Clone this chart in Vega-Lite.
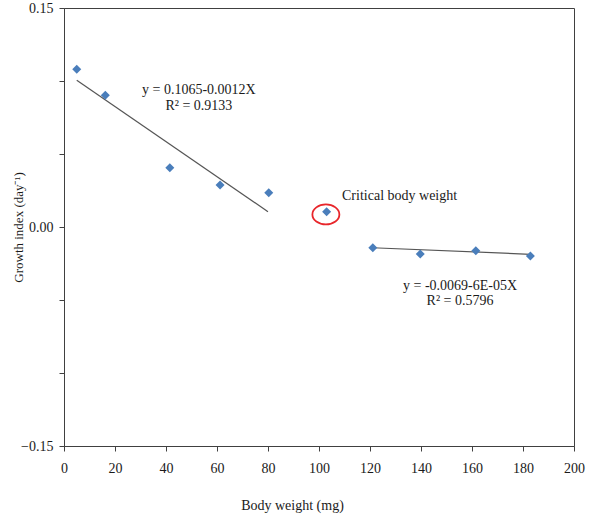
{
  "$schema": "https://vega.github.io/schema/vega-lite/v6.json",
  "width": 510,
  "height": 438,
  "autosize": {"type": "none"},
  "padding": {"left": 64, "top": 8, "right": 17, "bottom": 72},
  "background": "white",
  "config": {
    "view": {"stroke": "#404040", "strokeWidth": 1},
    "font": "Liberation Serif",
    "axis": {
      "domainColor": "#404040",
      "tickColor": "#404040",
      "labelColor": "#1a1a1a",
      "titleColor": "#1a1a1a",
      "labelFont": "Liberation Serif",
      "titleFont": "Liberation Serif",
      "labelFontSize": 14,
      "titleFontSize": 14,
      "titleFontWeight": "normal",
      "grid": false,
      "tickSize": 5,
      "labelFlush": false,
      "labelOverlap": false
    }
  },
  "datasets": {
    "points": [
      {"weight": 5.0, "growth": 0.1080},
      {"weight": 16.2, "growth": 0.0902},
      {"weight": 41.5, "growth": 0.0406},
      {"weight": 61.2, "growth": 0.0288},
      {"weight": 80.3, "growth": 0.0235},
      {"weight": 103.0, "growth": 0.0105},
      {"weight": 121.1, "growth": -0.0142},
      {"weight": 139.7, "growth": -0.0185},
      {"weight": 161.5, "growth": -0.0162},
      {"weight": 182.9, "growth": -0.0199}
    ],
    "trends": [
      {"fit": "below", "weight": 5, "growth": 0.1005},
      {"fit": "below", "weight": 80, "growth": 0.0105},
      {"fit": "above", "weight": 121, "growth": -0.0142},
      {"fit": "above", "weight": 183, "growth": -0.0187}
    ],
    "critical": [
      {"weight": 102.7, "growth": 0.0086}
    ],
    "notes": [
      {"weight": 52.9, "growth": 0.0938, "label": "y = 0.1065-0.0012X"},
      {"weight": 52.9, "growth": 0.0829, "label": "R² = 0.9133"},
      {"weight": 131.6, "growth": 0.0212, "label": "Critical body weight"},
      {"weight": 155.3, "growth": -0.0404, "label": "y = -0.0069-6E-05X"},
      {"weight": 155.3, "growth": -0.0507, "label": "R² = 0.5796"}
    ]
  },
  "layer": [
    {
      "mark": {"type": "rule", "color": "#333333", "strokeWidth": 1},
      "encoding": {"y": {"datum": 0, "type": "quantitative"}}
    },
    {
      "data": {"name": "trends"},
      "mark": {"type": "line", "color": "#555555", "strokeWidth": 1.2},
      "encoding": {
        "x": {"field": "weight", "type": "quantitative"},
        "y": {"field": "growth", "type": "quantitative"},
        "detail": {"field": "fit"}
      }
    },
    {
      "data": {"name": "points"},
      "mark": {"type": "point", "shape": "diamond", "filled": true, "size": 81, "color": "#4a7ebb", "opacity": 1},
      "encoding": {
        "x": {
          "field": "weight", "type": "quantitative",
          "scale": {"domain": [0, 200], "nice": false, "zero": false},
          "axis": {
            "values": [0, 20, 40, 60, 80, 100, 120, 140, 160, 180, 200],
            "title": "Body weight (mg)",
            "labelPadding": 10,
            "titleX": 228,
            "titleY": 59,
            "titleAlign": "center",
            "titleBaseline": "middle"
          }
        },
        "y": {
          "field": "growth", "type": "quantitative",
          "scale": {"domain": [-0.15, 0.15], "nice": false, "zero": false},
          "axis": {
            "values": [-0.15, -0.1, -0.05, 0, 0.05, 0.1, 0.15],
            "labelExpr": "abs(datum.value) < 0.001 || abs(abs(datum.value) - 0.15) < 0.001 ? format(datum.value, '.2f') : ''",
            "labelPadding": 6,
            "title": "Growth index (day⁻¹)",
            "titleFontSize": 13,
            "titleAngle": -90,
            "titleX": -46,
            "titleY": 219,
            "titleAlign": "center",
            "titleBaseline": "middle"
          }
        }
      }
    },
    {
      "data": {"name": "critical"},
      "mark": {
        "type": "point",
        "shape": "M -1 0 A 1 0.74 0 1 0 1 0 A 1 0.74 0 1 0 -1 0 Z",
        "size": 729,
        "filled": false,
        "stroke": "#e8262b",
        "strokeWidth": 1.8,
        "opacity": 1
      },
      "encoding": {
        "x": {"field": "weight", "type": "quantitative"},
        "y": {"field": "growth", "type": "quantitative"}
      }
    },
    {
      "data": {"name": "notes"},
      "mark": {"type": "text", "font": "Liberation Serif", "fontSize": 14, "color": "#1a1a1a", "align": "center", "baseline": "middle"},
      "encoding": {
        "x": {"field": "weight", "type": "quantitative"},
        "y": {"field": "growth", "type": "quantitative"},
        "text": {"field": "label"}
      }
    }
  ]
}
